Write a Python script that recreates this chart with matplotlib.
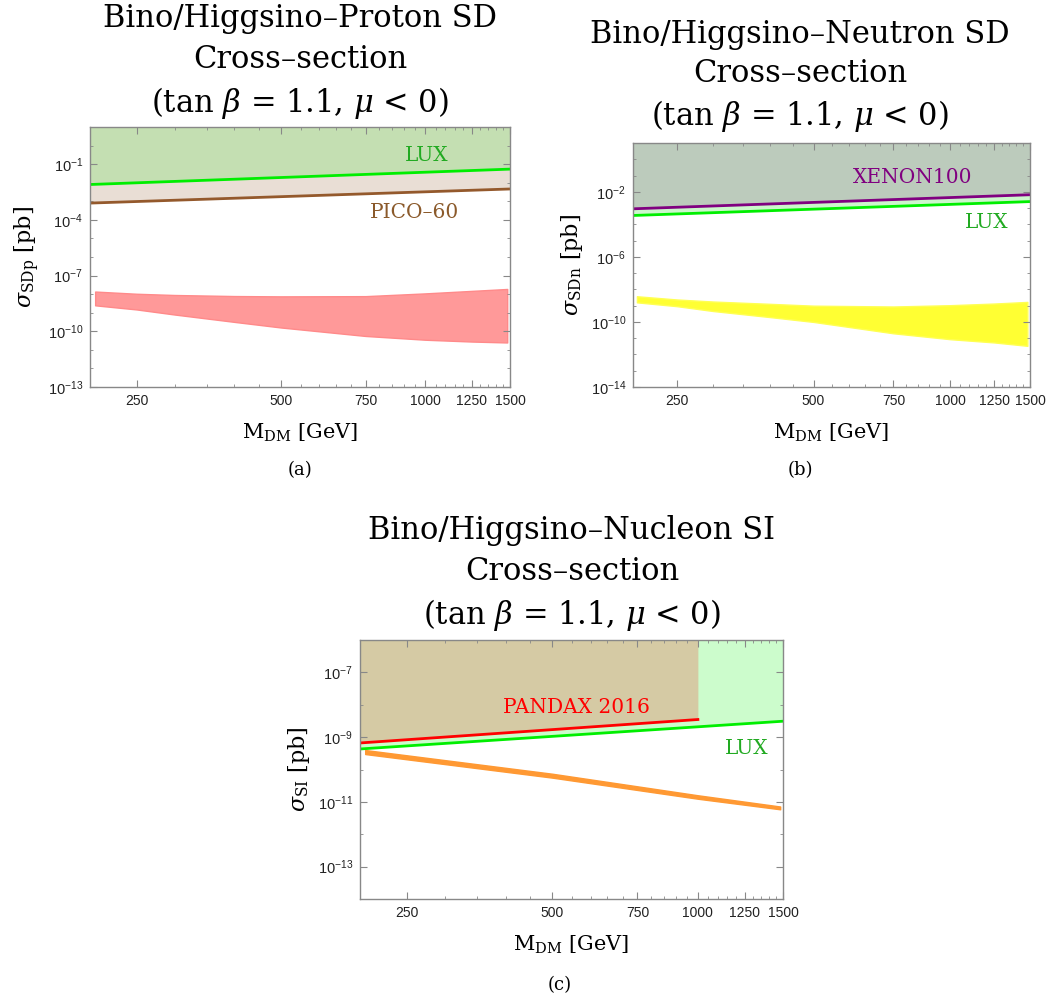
import numpy as np
import matplotlib
matplotlib.use("Agg")
import matplotlib.pyplot as plt
from matplotlib.ticker import FixedLocator, NullFormatter, LogLocator

plt.rcParams['mathtext.fontset'] = 'dejavuserif'

# --- data (M_DM in GeV, cross-sections in pb) ---
# (a) proton SD
m_lim_a = [200, 1500]
lux_a = [8.0e-3, 5.4e-2]
pico_a = [8.0e-4, 4.6e-3]
m_band_a = [205, 250, 300, 400, 500, 750, 1000, 1250, 1480]
band_a_hi = [1.38e-8, 1.05e-8, 9.0e-9, 7.9e-9, 7.6e-9, 7.8e-9, 1.1e-8, 1.5e-8, 1.9e-8]
band_a_lo = [2.5e-9, 1.5e-9, 8.0e-10, 3.2e-10, 1.6e-10, 5.6e-11, 3.5e-11, 2.8e-11, 2.5e-11]

# (b) neutron SD
m_lim_b = [200, 1500]
xenon_b = [9.0e-4, 6.6e-3]
lux_b = [3.5e-4, 2.5e-3]
m_band_b = [204, 250, 300, 400, 500, 750, 1000, 1250, 1480]
band_b_hi = [3.8e-9, 2.4e-9, 1.8e-9, 1.3e-9, 1.0e-9, 8.9e-10, 1.07e-9, 1.35e-9, 1.7e-9]
band_b_lo = [1.6e-9, 9.3e-10, 4.7e-10, 2.0e-10, 1.0e-10, 2.0e-11, 8.7e-12, 5.5e-12, 3.4e-12]

# (c) nucleon SI
m_pandax = [200, 1000]
pandax_c = [6.6e-10, 3.5e-9]
m_lux_c = [200, 1500]
lux_c = [4.3e-10, 3.1e-9]
m_band_c = [205, 500, 1000, 1480]
band_c_hi = [4.0e-10, 7.4e-11, 1.6e-11, 7.2e-12]
band_c_lo = [3.0e-10, 5.6e-11, 1.25e-11, 5.9e-12]

W, H = 1051, 1001
fig = plt.figure(figsize=(W / 100, H / 100), dpi=100)


def px_axes(l, t, r, b):
    return fig.add_axes([l / W, 1 - b / H, (r - l) / W, (b - t) / H])


def style(ax, ylo, yhi, ymajor, ylab):
    ax.set_xscale('log')
    ax.set_yscale('log')
    ax.set_xlim(200, 1500)
    ax.set_ylim(ylo, yhi)
    ax.xaxis.set_major_locator(FixedLocator([250, 500, 750, 1000, 1250, 1500]))
    ax.xaxis.set_minor_locator(FixedLocator([m for m in range(200, 1501, 50)
                                             if m % 250 != 0]))
    ax.xaxis.set_minor_formatter(NullFormatter())
    ax.set_xticklabels(['250', '500', '750', '1000', '1250', '1500'])
    ax.yaxis.set_major_locator(FixedLocator([10.0 ** e for e in ymajor]))
    ax.yaxis.set_minor_locator(LogLocator(base=10, subs=[1.0], numticks=40))
    ax.yaxis.set_minor_formatter(NullFormatter())
    ax.set_yticklabels([r'$\mathregular{10^{%d}}$' % e for e in ymajor])
    ax.tick_params(which='both', direction='in', top=True, right=True,
                   color='#888888', labelsize=10, labelcolor='#222222',
                   pad=5)
    ax.tick_params(axis='y', labelsize=10.5)
    ax.tick_params(which='major', length=5)
    ax.tick_params(which='minor', length=2.5)
    for lab in ax.get_xticklabels() + ax.get_yticklabels():
        lab.set_family('Liberation Sans')
    for s in ax.spines.values():
        s.set_color('#888888')
        s.set_linewidth(1.0)
    ax.set_xlabel(r'M$_{\rm DM}$ [GeV]', family='DejaVu Serif', fontsize=15,
                  labelpad=10)
    ax.set_ylabel(ylab, family='DejaVu Serif', fontsize=16, labelpad=4)


title_kw = dict(family='DejaVu Serif', fontsize=22, ha='center', va='center')
lab_kw = dict(family='DejaVu Serif', fontsize=14.5, ha='center', va='center')
cap_kw = dict(family='DejaVu Serif', fontsize=13, ha='center', va='center')

# ---------------- (a) ----------------
ax = px_axes(90, 127, 510, 387)
top_a = 10.0
ax.fill_between(m_lim_a, pico_a, top_a, color='#e9ded5', lw=0)
ax.fill_between(m_lim_a, lux_a, top_a, color='#c4dfb2', lw=0)
ax.plot(m_lim_a, pico_a, color='#94592c', lw=2)
ax.plot(m_lim_a, lux_a, color='#00ee00', lw=2)
ax.fill_between(m_band_a, band_a_lo, band_a_hi, color='#ff9999',
                edgecolor='#ff8a8a', lw=1)
style(ax, 1e-13, top_a, [-1, -4, -7, -10, -13], r'$\sigma_{\rm SDp}$ [pb]')
ax.text(1007, 0.3, 'LUX', color='#22aa22', **lab_kw)
ax.text(950, 2.4e-4, 'PICO–60', color='#8b5a2b', **lab_kw)
fig.text(300 / W, 1 - 18 / H, 'Bino/Higgsino–Proton SD', **title_kw)
fig.text(300 / W, 1 - 60 / H, 'Cross–section', **title_kw)
fig.text(300 / W, 1 - 103 / H, r'(tan $\beta$ = 1.1, $\mu$ < 0)', **title_kw)
fig.text(300 / W, 1 - 470 / H, '(a)', **cap_kw)

# ---------------- (b) ----------------
ax = px_axes(633, 143, 1030, 387)
top_b = 10.0
ax.fill_between(m_lim_b, lux_b, top_b, color='#ccf7cc', lw=0)
ax.fill_between(m_lim_b, xenon_b, top_b, color='#bccbbc', lw=0)
ax.plot(m_lim_b, xenon_b, color='#800080', lw=2)
ax.plot(m_lim_b, lux_b, color='#00ee00', lw=2)
ax.fill_between(m_band_b, band_b_lo, band_b_hi, color='#ffff33',
                edgecolor='#ffff55', lw=1)
style(ax, 1e-14, top_b, [-2, -6, -10, -14], r'$\sigma_{\rm SDn}$ [pb]')
ax.text(828, 0.08, 'XENON100', color='#800080', **lab_kw)
ax.text(1206, 1.3e-4, 'LUX', color='#22aa22', **lab_kw)
fig.text(800 / W, 1 - 35 / H, 'Bino/Higgsino–Neutron SD', **title_kw)
fig.text(800 / W, 1 - 74 / H, 'Cross–section', **title_kw)
fig.text(800 / W, 1 - 116 / H, r'(tan $\beta$ = 1.1, $\mu$ < 0)', **title_kw)
fig.text(800 / W, 1 - 470 / H, '(b)', **cap_kw)

# ---------------- (c) ----------------
ax = px_axes(360, 640, 783, 899)
top_c = 1e-6
ax.fill_between(m_lux_c, lux_c, top_c, color='#ccfccc', lw=0)
ax.fill_between(m_pandax, pandax_c, top_c, color='#d5caa4', lw=0)
ax.plot(m_pandax, pandax_c, color='#ff0000', lw=2)
ax.plot(m_lux_c, lux_c, color='#00ee00', lw=2)
ax.fill_between(m_band_c, band_c_lo, band_c_hi, color='#ff9933',
                edgecolor='#ff9933', lw=1)
style(ax, 1e-14, top_c, [-7, -9, -11, -13], r'$\sigma_{\rm SI}$ [pb]')
ax.text(562, 8.3e-9, 'PANDAX 2016', color='#ff0000', **lab_kw)
ax.text(1264, 4.6e-10, 'LUX', color='#22aa22', **lab_kw)
fig.text(572 / W, 1 - 530 / H, 'Bino/Higgsino–Nucleon SI', **title_kw)
fig.text(572 / W, 1 - 572 / H, 'Cross–section', **title_kw)
fig.text(572 / W, 1 - 615 / H, r'(tan $\beta$ = 1.1, $\mu$ < 0)', **title_kw)
fig.text(560 / W, 1 - 985 / H, '(c)', **cap_kw)

fig.savefig('out.png', dpi=100)
